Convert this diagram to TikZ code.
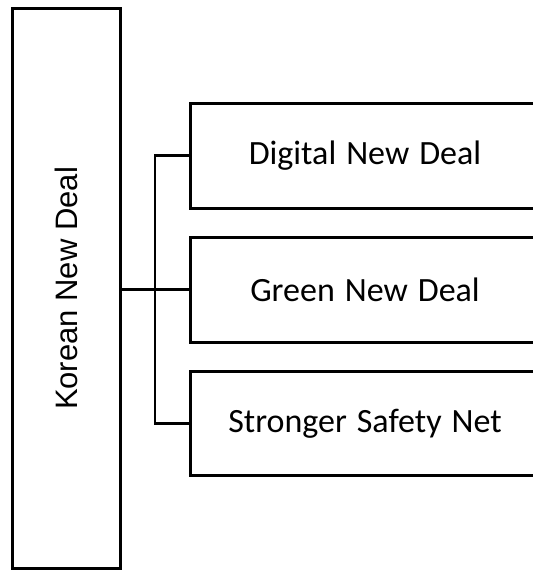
\documentclass[tikz,border=0pt]{standalone}
\usepackage{fontspec}
\setmainfont{Liberation Sans}
\newfontfamily\calfont[WordSpace=1.3]{Carlito}
\begin{document}
\begin{tikzpicture}[x=1pt,y=-1pt,
  mainbox/.style={draw=black,line width=3pt,minimum width=107.5pt,minimum height=560pt,inner sep=0pt,font=\fontsize{31}{33}\selectfont},
  subbox/.style={draw=black,line width=3pt,minimum width=350pt,minimum height=104.5pt,inner sep=0pt,font=\calfont\fontsize{34}{36}\selectfont},
  link/.style={line width=2.6pt}]
\useasboundingbox (0,0) rectangle (533,571);
\clip (0,0) rectangle (533,571);
\node[mainbox] (knd) at (66.25,288.5) {\rotatebox{90}{Korean New Deal}};
\node[subbox] (b1) at (365,155.75) {Digital New Deal};
\node[subbox] (b2) at (365,289.75) {Green New Deal};
\node[subbox] (b3) at (365,423.5) {Stronger Safety Net};
\coordinate (j) at (155,289.75);
\draw[line width=3pt] (b2.west -| knd.east) -- (b2.west);
\draw[link] (b1.west) -| (j) |- (b3.west);
\end{tikzpicture}
\end{document}
